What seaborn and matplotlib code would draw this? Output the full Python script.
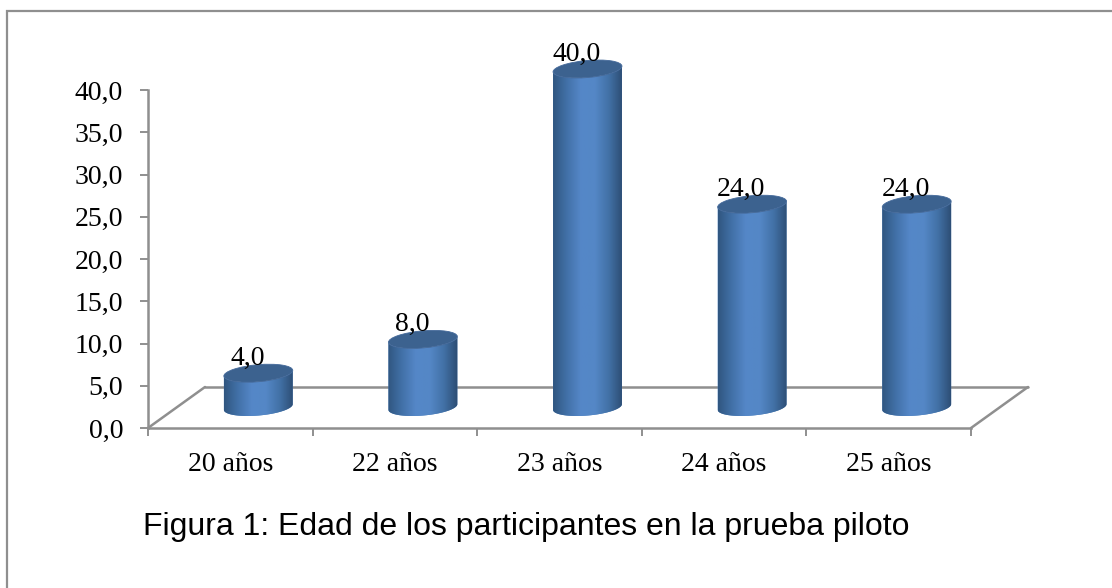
import numpy as np
import pandas as pd
import matplotlib
matplotlib.use("Agg")
import matplotlib.pyplot as plt
import seaborn as sns
from matplotlib.colors import LinearSegmentedColormap
from matplotlib.patches import Ellipse, PathPatch, Rectangle
from matplotlib.path import Path
from matplotlib.transforms import IdentityTransform, ScaledTranslation

categories = ["20 años", "22 años", "23 años", "24 años", "25 años"]
percentages = [4.0, 8.0, 40.0, 24.0, 24.0]
y_ticks = [0, 5, 10, 15, 20, 25, 30, 35, 40]

W, H, DPI = 1112, 588, 100
GRAY = "#8f8f8f"
SERIF = "Liberation Serif"

sns.set_theme(style="white")
fig = plt.figure(figsize=(W / DPI, H / DPI), dpi=DPI, facecolor="white")
ax = fig.add_axes([148 / W, (H - 428) / H, 823 / W, 338 / H], facecolor="none")

df = pd.DataFrame({"edad": categories, "pct": percentages})
sns.barplot(data=df, x="edad", y="pct", ax=ax, color="#4F81BD", width=0.42,
            saturation=1, clip_on=False, zorder=3)
ax.set_xlim(-0.5, 4.5)
ax.set_ylim(0, 40)
ax.set_autoscale_on(False)
ax.set_xlabel("")
ax.set_ylabel("")

# Pseudo-3D depth of the chart floor and of the cylinders standing on it
floor_dx, floor_dy = 57, 41
bar_dx, bar_dy = 28, 21
floor_shift = ax.transData + ScaledTranslation(floor_dx / DPI, floor_dy / DPI, fig.dpi_scale_trans)
ax.plot([-0.5, 4.5], [0, 0], color=GRAY, lw=1.8, transform=floor_shift, clip_on=False, zorder=1)
for xpos in (-0.5, 4.5):
    p0 = ax.transData.transform((xpos, 0))
    ax.plot([p0[0], p0[0] + floor_dx], [p0[1], p0[1] + floor_dy], color=GRAY, lw=1.8,
            transform=IdentityTransform(), clip_on=False, zorder=1)

# Shade every bar as a cylinder
body_cmap = LinearSegmentedColormap.from_list(
    "cyl", ["#305680", "#4271a8", "#5587c8", "#5487c6", "#4271a6", "#2c4c72"])
gradient = np.linspace(0, 1, 256).reshape(1, -1)
ell_h = 17
tilt = 5
theta = np.radians(tilt)
for patch, value in zip(list(ax.patches), percentages):
    x0, y0 = ax.transData.transform((patch.get_x(), 0)) + (bar_dx, bar_dy)
    x1, y1 = ax.transData.transform((patch.get_x() + patch.get_width(), patch.get_height())) + (bar_dx, bar_dy)
    cx = (x0 + x1) / 2
    w = x1 - x0

    def ell_pts(cy, t):
        ex, ey = w / 2 * np.cos(t), ell_h / 2 * np.sin(t)
        return cx + ex * np.cos(theta) - ey * np.sin(theta), cy + ex * np.sin(theta) + ey * np.cos(theta)

    t_low = np.linspace(np.pi, 2 * np.pi, 60)
    low_x, low_y = ell_pts(y0, t_low)
    top_x, top_y = ell_pts(y1, t_low[::-1])
    outline = np.vstack([np.column_stack([low_x, low_y]), np.column_stack([top_x, top_y]),
                         [[low_x[0], low_y[0]]]])
    codes = [Path.MOVETO] + [Path.LINETO] * (len(outline) - 2) + [Path.CLOSEPOLY]
    body = PathPatch(Path(outline, codes), transform=IdentityTransform(), facecolor="#4F81BD",
                     edgecolor="none", zorder=4, clip_on=False)
    ax.add_patch(body)
    img = ax.imshow(gradient, cmap=body_cmap, aspect="auto", zorder=5,
                    extent=(x0, x1, y0 - 15, y1 + 15), transform=IdentityTransform(),
                    interpolation="bilinear")
    img.set_clip_box(fig.bbox)
    img.set_clip_path(body)
    cap = Ellipse((cx, y1), w, ell_h, angle=tilt, transform=IdentityTransform(),
                  facecolor="#3c628f", edgecolor="#44699a", lw=0.6, zorder=6, clip_on=False)
    ax.add_patch(cap)
    patch.set_visible(False)
    ax.text(cx - 11, y1 + 2, f"{value:.1f}".replace(".", ","), transform=IdentityTransform(),
            ha="center", va="bottom", family=SERIF, fontsize=20, color="black", zorder=7)

ax.set_xlim(-0.5, 4.5)
ax.set_ylim(0, 40)

# Axes styling
for side in ("top", "right"):
    ax.spines[side].set_visible(False)
for side in ("left", "bottom"):
    ax.spines[side].set_color(GRAY)
    ax.spines[side].set_linewidth(1.8)
ax.set_yticks(y_ticks)
ax.set_yticklabels([f"{t:.1f}".replace(".", ",") for t in y_ticks], family=SERIF, fontsize=20, color="black")
ax.set_xticks(range(len(categories)))
ax.set_xticklabels(categories, family=SERIF, fontsize=20, color="black")
ax.set_xticks(np.arange(-0.5, 5), minor=True)
ax.tick_params(axis="x", which="major", length=0, pad=17)
ax.tick_params(axis="x", which="minor", length=6, width=1.4, color=GRAY, bottom=True)
ax.tick_params(axis="y", length=6, width=1.4, color=GRAY, pad=12, left=True)

# Surrounding chart frame and caption
fig.add_artist(Rectangle((7 / W, -0.1), 1.2, (H - 11) / H + 0.1, transform=fig.transFigure,
                         facecolor="none", edgecolor=GRAY, lw=1.6))
fig.text(143 / W, (H - 535) / H, "Figura 1: Edad de los participantes en la prueba piloto",
         family="Liberation Sans", fontsize=23, color="black", ha="left", va="baseline")

fig.savefig("out.png", dpi=DPI)
